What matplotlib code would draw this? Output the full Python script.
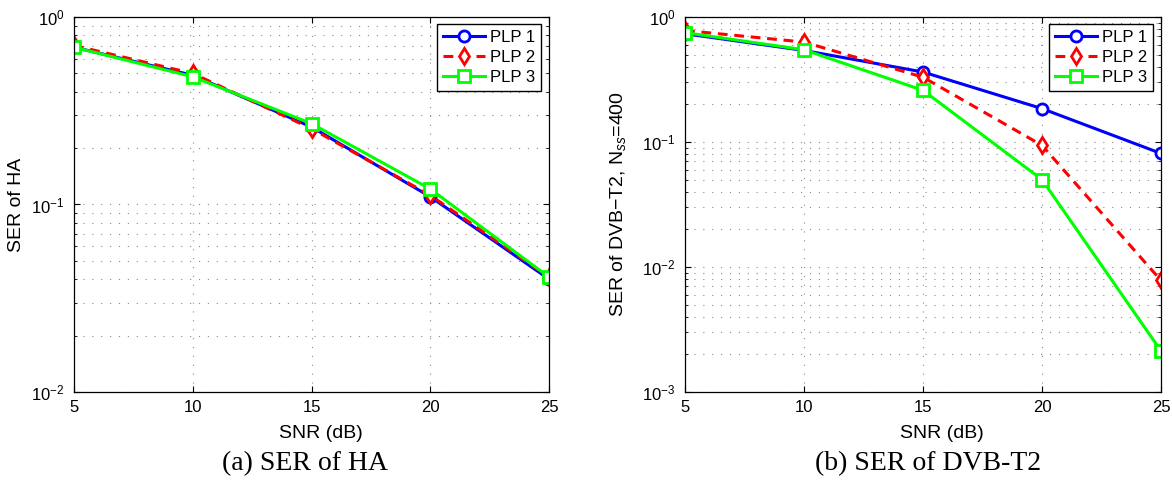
import numpy as np
import matplotlib
matplotlib.use("Agg")
import matplotlib.pyplot as plt
from matplotlib.ticker import LogLocator, NullFormatter

plt.rcParams['font.family'] = ['Liberation Sans', 'DejaVu Sans']
plt.rcParams['mathtext.fontset'] = 'custom'
plt.rcParams['mathtext.rm'] = 'Liberation Sans'
plt.rcParams['mathtext.it'] = 'Liberation Sans:italic'

# SNR (dB)
snr = [5, 10, 15, 20, 25]
labels = ["PLP 1", "PLP 2", "PLP 3"]

# SER of HA
ha_plp1 = [0.69, 0.489, 0.259, 0.110, 0.040]
ha_plp2 = [0.705, 0.500, 0.254, 0.112, 0.041]
ha_plp3 = [0.69, 0.480, 0.270, 0.121, 0.041]

# SER of DVB-T2
dvb_plp1 = [0.735, 0.54, 0.363, 0.185, 0.081]
dvb_plp2 = [0.78, 0.63, 0.33, 0.094, 0.0078]
dvb_plp3 = [0.75, 0.547, 0.259, 0.050, 0.00213]

styles = [
    dict(color="#0000ff", dashes=(None, None), marker="o"),
    dict(color="#ff0000", dashes=(3.2, 2.2), marker="d"),
    dict(color="#00ff00", dashes=(None, None), marker="s"),
]


def draw(ax, series, ymin, ylabel, xlab_x, ylab_x):
    for y, lab, st in zip(series, labels, styles):
        ax.semilogy(snr, y, label=lab, linewidth=2.2, markersize=8,
                    markeredgewidth=2, markerfacecolor="white",
                    color=st["color"], dashes=st["dashes"], marker=st["marker"])
    ax.set_xlim(5, 25)
    ax.set_ylim(ymin, 1)
    ax.set_xticks(snr)
    ax.yaxis.set_major_locator(LogLocator(base=10, numticks=10))
    ax.yaxis.set_minor_locator(LogLocator(base=10, subs=np.arange(2, 10), numticks=10))
    ax.yaxis.set_minor_formatter(NullFormatter())
    for which, axis in (("major", "both"), ("minor", "y")):
        ax.grid(True, which=which, axis=axis, color="#8c8c8c", linewidth=0.8, dashes=(1, 7))
    ax.tick_params(which="both", direction="in", top=True, right=True, labelsize=12)
    ax.tick_params(which="major", length=4.5)
    ax.tick_params(which="minor", length=2.5)
    ax.tick_params(axis="x", pad=6)
    ax.tick_params(axis="y", pad=7)
    ax.set_xlabel("SNR (dB)", fontsize=14)
    ax.xaxis.set_label_coords(xlab_x, -0.088)
    ax.set_ylabel(ylabel, fontsize=14)
    ax.yaxis.set_label_coords(ylab_x, 0.5)
    leg = ax.legend(loc="upper right", bbox_to_anchor=(1 - 8 / 476, 1 - 7 / 375),
                    fontsize=12, fancybox=False, edgecolor="black",
                    framealpha=1, borderaxespad=0, handlelength=2.5,
                    handletextpad=0.3, labelspacing=0.3, borderpad=0.35)
    leg.get_frame().set_linewidth(1.0)
    for sp in ax.spines.values():
        sp.set_linewidth(0.9)


fig = plt.figure(figsize=(11.72, 4.84), dpi=100)
ax1 = fig.add_axes([74 / 1172, 1 - 392 / 484, 475 / 1172, 375 / 484])
ax2 = fig.add_axes([685 / 1172, 1 - 392 / 484, 476 / 1172, 375 / 484])

draw(ax1, [ha_plp1, ha_plp2, ha_plp3], 1e-2, "SER of HA", 0.52, -0.103)
draw(ax2, [dvb_plp1, dvb_plp2, dvb_plp3], 1e-3, "SER of DVB$-$T2, N$_{ss}$=400", 0.54, -0.12)

fig.text(305 / 1172, 1 - 464 / 484, "(a) SER of HA", ha="center", va="center",
         fontsize=20, family="Liberation Serif")
fig.text(928 / 1172, 1 - 464 / 484, "(b) SER of DVB-T2", ha="center", va="center",
         fontsize=20, family="Liberation Serif")

fig.savefig("out.png", dpi=100)
